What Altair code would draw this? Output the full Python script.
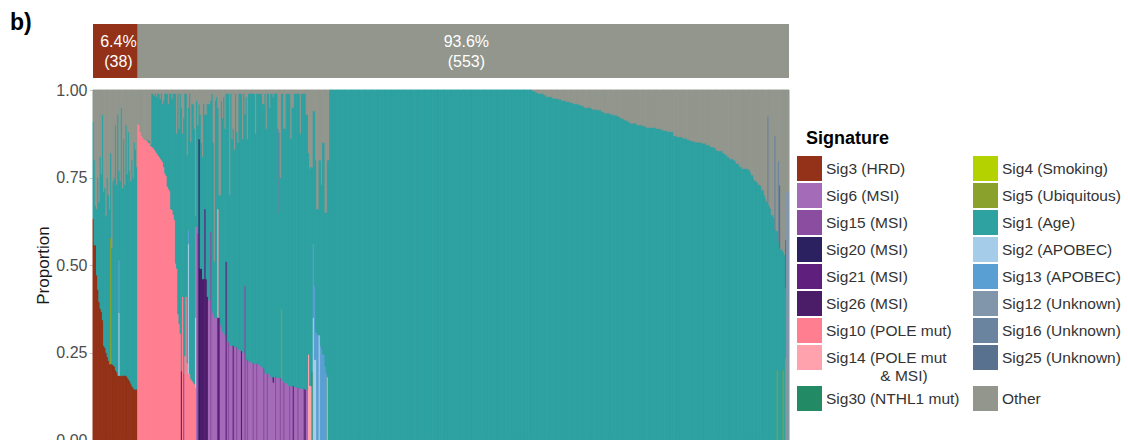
import altair as alt
import pandas as pd

# ------------------------------------------------------------------ data
N_SAMPLES = 591

SIG_LABELS = {
    "Sig3": "Sig3 (HRD)", "Sig6": "Sig6 (MSI)", "Sig15": "Sig15 (MSI)",
    "Sig20": "Sig20 (MSI)", "Sig21": "Sig21 (MSI)", "Sig26": "Sig26 (MSI)",
    "Sig10": "Sig10 (POLE mut)", "Sig14": "Sig14 (POLE mut & MSI)",
    "Sig30": "Sig30 (NTHL1 mut)", "Sig4": "Sig4 (Smoking)",
    "Sig5": "Sig5 (Ubiquitous)", "Sig1": "Sig1 (Age)", "Sig2": "Sig2 (APOBEC)",
    "Sig13": "Sig13 (APOBEC)", "Sig12": "Sig12 (Unknown)",
    "Sig16": "Sig16 (Unknown)", "Sig25": "Sig25 (Unknown)", "Other": "Other",
}
SIG_COLORS = {
    "Sig3": "#933218", "Sig6": "#A46BB8", "Sig15": "#8A4DA0", "Sig20": "#2B2060",
    "Sig21": "#5E1F7D", "Sig26": "#4B1D69", "Sig10": "#FF7F91", "Sig14": "#FFA2AE",
    "Sig30": "#238A66", "Sig4": "#B4D200", "Sig5": "#8AA22B", "Sig1": "#2EA1A1",
    "Sig2": "#A5CDEA", "Sig13": "#5A9FD3", "Sig12": "#8296AB", "Sig16": "#6A839E",
    "Sig25": "#58718F", "Other": "#92968D",
}
LEGEND_LEFT = ["Sig3", "Sig6", "Sig15", "Sig20", "Sig21", "Sig26", "Sig10", "Sig14", "Sig30"]
LEGEND_RIGHT = ["Sig4", "Sig5", "Sig1", "Sig2", "Sig13", "Sig12", "Sig16", "Sig25", "Other"]
STACK_ORDER = ["Sig3", "Sig6", "Sig15", "Sig20", "Sig21", "Sig26", "Sig10", "Sig14",
               "Sig30", "Sig4", "Sig5", "Sig2", "Sig13", "Sig1", "Sig12", "Sig16",
               "Sig25", "Other"]

# HRD samples (0-37): Sig3 proportion and top of Sig1 (Age) band
hrd_sig3 = [0.633, 0.557, 0.557, 0.471, 0.43, 0.395, 0.376, 0.367, 0.343, 0.27,
            0.264, 0.25, 0.238, 0.227, 0.217, 0.217, 0.217, 0.214, 0.211, 0.20,
            0.194, 0.184, 0.184, 0.184, 0.184, 0.184, 0.184, 0.184, 0.184, 0.179,
            0.174, 0.169, 0.162, 0.154, 0.149, 0.145, 0.145, 0.145]
hrd_age_top = [0.91, 0.80, 0.67, 0.66, 0.75, 0.68, 0.81, 0.76, 0.93, 0.71,
               0.72, 0.64, 0.75, 0.70, 0.66, 0.82, 0.55, 0.74, 0.75, 0.90,
               0.73, 0.93, 0.77, 0.74, 0.95, 0.72, 0.86, 0.73, 0.90, 0.76,
               0.88, 0.77, 0.74, 0.80, 0.75, 0.85, 0.83, 0.78]

# POLE / MSI / APOBEC samples (38-200): main signature, its proportion, top of Sig1 band
mix_main = [10, 10, 10, 10, 10, 10, 10, 10, 10, 10,
            10, 10, 10, 10, 10, 10, 10, 10, 10, 10,
            10, 10, 10, 10, 10, 10, 10, 10, 10, 10,
            10, 10, 10, 10, 10, 10, 10, 21, 10, 15,
            10, 10, 10, 10, 10, 10, 10, 10, 10, 10,
            6, 15, 20, 26, 26, 26, 26, 21, 26, 26,
            6, 6, 15, 6, 6, 6, 6, 6, 21, 21,
            6, 6, 6, 6, 6, 21, 6, 15, 6, 6,
            6, 21, 6, 6, 15, 6, 6, 6, 26, 6,
            6, 15, 6, 15, 6, 6, 6, 6, 15, 6,
            6, 15, 6, 6, 6, 6, 6, 15, 6, 6,
            15, 6, 6, 6, 6, 6, 6, 15, 6, 6,
            6, 15, 6, 6, 15, 6, 6, 6, 6, 15,
            6, 6, 21, 6, 6, 6, 15, 6, 6, 6,
            6, 15, 26, 6, 6, 14, 14, 14, 30, 2,
            2, 2, 13, 13, 2, 13, 13, 13, 13, 13,
            13, 4, 1]
mix_val = [0.903, 0.90, 0.88, 0.87, 0.865, 0.86, 0.857, 0.857, 0.855, 0.85,
           0.848, 0.84, 0.838, 0.835, 0.83, 0.825, 0.82, 0.815, 0.81, 0.805,
           0.80, 0.795, 0.78, 0.762, 0.755, 0.725, 0.718, 0.712, 0.66, 0.658,
           0.645, 0.63, 0.505, 0.49, 0.36, 0.333, 0.305, 0.197, 0.41, 0.19,
           0.24, 0.41, 0.22, 0.19, 0.19, 0.175, 0.17, 0.165, 0.16, 0.15,
           0.61, 0.59, 0.86, 0.49, 0.49, 0.46, 0.46, 0.66, 0.46, 0.41,
           0.40, 0.40, 0.595, 0.37, 0.36, 0.35, 0.35, 0.35, 0.35, 0.35,
           0.33, 0.32, 0.31, 0.305, 0.30, 0.51, 0.28, 0.28, 0.27, 0.27,
           0.27, 0.27, 0.266, 0.266, 0.266, 0.26, 0.257, 0.257, 0.255, 0.25,
           0.25, 0.44, 0.23, 0.23, 0.225, 0.224, 0.224, 0.22, 0.22, 0.218,
           0.219, 0.219, 0.218, 0.215, 0.213, 0.21, 0.207, 0.205, 0.19, 0.19,
           0.19, 0.19, 0.185, 0.18, 0.18, 0.165, 0.18, 0.18, 0.178, 0.178,
           0.178, 0.178, 0.176, 0.17, 0.164, 0.164, 0.164, 0.16, 0.155, 0.155,
           0.155, 0.155, 0.155, 0.152, 0.152, 0.15, 0.15, 0.148, 0.148, 0.147,
           0.147, 0.147, 0.145, 0.145, 0.145, 0.245, 0.155, 0.155, 0.195, 0.35,
           0.23, 0.23, 0.305, 0.30, 0.30, 0.27, 0.26, 0.245, 0.245, 0.21,
           0.19, 0.18, 0.0]
mix_age_top = [0.903, 0.90, 0.88, 0.87, 0.865, 0.86, 0.857, 0.857, 0.857, 0.857,
               0.855, 0.845, 0.99, 0.99, 0.985, 0.99, 0.98, 0.99, 0.99, 0.975,
               0.99, 0.96, 0.97, 0.99, 0.99, 0.99, 0.96, 0.99, 0.99, 0.975,
               0.99, 0.99, 0.99, 0.876, 0.99, 0.89, 0.99, 0.95, 0.876, 0.92,
               0.99, 0.99, 0.814, 0.95, 0.99, 0.852, 0.96, 0.96, 0.89, 0.64,
               0.97, 0.90, 0.96, 0.93, 0.85, 0.81, 0.96, 0.93, 0.93, 0.96,
               0.96, 0.96, 0.97, 0.99, 0.85, 0.51, 0.97, 0.98, 0.95, 0.70,
               0.70, 0.97, 0.92, 0.98, 0.89, 0.99, 0.99, 0.99, 0.70, 0.99,
               0.86, 0.89, 0.83, 0.99, 0.88, 0.85, 0.99, 0.99, 0.99, 0.86,
               0.99, 0.93, 0.98, 0.86, 0.99, 0.99, 0.99, 0.99, 0.99, 0.99,
               0.876, 0.99, 0.99, 0.99, 0.99, 0.99, 0.96, 0.96, 0.99, 0.89,
               0.99, 0.99, 0.95, 0.99, 0.99, 0.98, 0.99, 0.99, 0.99, 0.65,
               0.88, 0.75, 0.99, 0.99, 0.89, 0.89, 0.99, 0.99, 0.99, 0.99,
               0.86, 0.95, 0.95, 0.99, 0.99, 0.99, 0.99, 0.99, 0.876, 0.99,
               0.99, 0.99, 0.99, 0.93, 0.93, 0.82, 0.776, 0.78, 0.78, 0.94,
               0.94, 0.80, 0.66, 0.66, 0.80, 0.80, 0.73, 0.85, 0.85, 0.65,
               0.65, 0.80, 0.80]

# Age-dominated samples (201-372) are fully Sig1
age_full = [1.0] * 172

# Remaining samples (373-590): top of Sig1 band
age_tail_top = [0.998, 0.997, 0.997, 0.993, 0.993, 0.99, 0.99, 0.99, 0.99, 0.99,
                0.986, 0.986, 0.981, 0.981, 0.981, 0.981, 0.981, 0.978, 0.976, 0.976,
                0.976, 0.976, 0.974, 0.974, 0.974, 0.97, 0.97, 0.97, 0.97, 0.967,
                0.967, 0.967, 0.964, 0.964, 0.964, 0.96, 0.96, 0.96, 0.96, 0.96,
                0.957, 0.957, 0.955, 0.955, 0.95, 0.95, 0.95, 0.95, 0.95, 0.95,
                0.948, 0.945, 0.945, 0.945, 0.945, 0.943, 0.943, 0.943, 0.943, 0.938,
                0.938, 0.934, 0.934, 0.934, 0.934, 0.934, 0.931, 0.931, 0.931, 0.928,
                0.928, 0.928, 0.928, 0.924, 0.924, 0.919, 0.919, 0.919, 0.914, 0.914,
                0.914, 0.91, 0.91, 0.905, 0.905, 0.905, 0.905, 0.905, 0.905, 0.90,
                0.90, 0.90, 0.90, 0.90, 0.897, 0.897, 0.897, 0.893, 0.893, 0.893,
                0.893, 0.893, 0.893, 0.893, 0.893, 0.89, 0.89, 0.89, 0.89, 0.888,
                0.888, 0.884, 0.884, 0.884, 0.884, 0.881, 0.881, 0.881, 0.881, 0.881,
                0.869, 0.869, 0.869, 0.866, 0.866, 0.866, 0.866, 0.866, 0.862, 0.862,
                0.862, 0.862, 0.857, 0.857, 0.857, 0.854, 0.854, 0.854, 0.851, 0.851,
                0.851, 0.851, 0.851, 0.851, 0.848, 0.848, 0.848, 0.848, 0.843, 0.843,
                0.843, 0.838, 0.838, 0.838, 0.835, 0.835, 0.828, 0.828, 0.826, 0.826,
                0.826, 0.826, 0.819, 0.819, 0.814, 0.814, 0.808, 0.808, 0.803, 0.803,
                0.803, 0.799, 0.799, 0.79, 0.79, 0.79, 0.781, 0.781, 0.776, 0.776,
                0.776, 0.776, 0.776, 0.773, 0.773, 0.766, 0.757, 0.757, 0.746, 0.74,
                0.74, 0.736, 0.73, 0.73, 0.726, 0.714, 0.714, 0.70, 0.69, 0.681,
                0.675, 0.67, 0.662, 0.643, 0.643, 0.636, 0.60, 0.598, 0.598, 0.567,
                0.548, 0.545, 0.545, 0.538, 0.53, 0.435, 0.0, 0.0]

# minor signatures: (sample, signature, proportion)
extras = [(15, "Sig5", 0.36), (22, "Sig2", 0.18), (22, "Sig13", 0.15),
          (81, "Sig2", 0.37), (81, "Sig13", 0.04), (87, "Sig2", 0.20), (87, "Sig13", 0.26),
          (106, "Sig14", 0.31), (153, "Sig20", 0.015), (157, "Sig16", 0.24),
          (160, "Sig5", 0.20), (187, "Sig13", 0.21), (188, "Sig13", 0.21),
          (189, "Sig13", 0.08), (573, "Sig16", 0.25), (579, "Sig16", 0.27),
          (581, "Sig5", 0.20), (582, "Sig16", 0.23), (583, "Sig25", 0.18),
          (586, "Sig5", 0.20), (588, "Sig5", 0.235), (588, "Sig25", 0.137),
          (589, "Sig12", 0.71), (590, "Sig12", 0.71)]

# ------------------------------------------------------------------ assemble
assert len(hrd_sig3) == 38 and len(hrd_age_top) == 38
assert len(mix_main) == len(mix_val) == len(mix_age_top) == 163
assert 38 + 163 + len(age_full) + len(age_tail_top) == N_SAMPLES

comps = [dict() for _ in range(N_SAMPLES)]
age_top = [0.0] * N_SAMPLES
for k in range(38):
    comps[k]["Sig3"] = hrd_sig3[k]
    age_top[k] = hrd_age_top[k]
for j in range(163):
    i = 38 + j
    if mix_main[j] != 1 and mix_val[j] > 0:
        comps[i]["Sig%d" % mix_main[j]] = mix_val[j]
    age_top[i] = mix_age_top[j]
for j, v in enumerate(age_full):
    age_top[201 + j] = v
for j, v in enumerate(age_tail_top):
    age_top[201 + len(age_full) + j] = v
for i, s, v in extras:
    comps[i][s] = comps[i].get(s, 0) + v

below_age = STACK_ORDER[:STACK_ORDER.index("Sig1")]
rows = []
for i in range(N_SAMPLES):
    c = comps[i]
    c["Sig1"] = max(0.0, age_top[i] - sum(c.get(s, 0) for s in below_age))
    other = 1.0 - sum(c.values())
    c["Other"] = other if other > 1e-6 else 0.0
    y = 0.0
    for s in STACK_ORDER:
        v = c.get(s, 0)
        if v > 0:
            rows.append({"x0": i, "x1": i + 1, "y0": y, "y1": y + v,
                         "Signature": SIG_LABELS[s]})
            y += v
df = pd.DataFrame(rows)

hrd_n = len(hrd_sig3)
strip = pd.DataFrame({
    "group": ["HRD", "non-HRD"],
    "start": [0, hrd_n],
    "end": [hrd_n, N_SAMPLES],
    "n": [hrd_n, N_SAMPLES - hrd_n],
})
strip["mid"] = (strip["start"] + strip["end"]) / 2
strip["label"] = [f"{n / N_SAMPLES * 100:.1f}%\n({n})" for n in strip["n"]]

# ------------------------------------------------------------------ chart
PLOT_W, PLOT_H, MAIN_H = 696, 416, 350
Y_MAX = PLOT_H / MAIN_H
FONT = "Liberation Sans"

legend_domain = LEGEND_LEFT + LEGEND_RIGHT
color_scale = alt.Scale(domain=[SIG_LABELS[s] for s in legend_domain],
                        range=[SIG_COLORS[s] for s in legend_domain])

indent = "\u200b" + "\u2002" * 7
label_expr = ("datum.label == 'Sig14 (POLE mut & MSI)' ? "
              "['Sig14 (POLE mut', '" + indent + "& MSI)'] : datum.label")

x_scale = alt.Scale(domain=[0, N_SAMPLES], nice=False, zero=False)

bars = alt.Chart(df).mark_rect(strokeWidth=1.0).encode(
    x=alt.X("x0:Q", scale=x_scale, axis=None),
    x2="x1:Q",
    y=alt.Y("y0:Q", scale=alt.Scale(domain=[0, Y_MAX], nice=False, zero=True),
            axis=alt.Axis(values=[0, 0.25, 0.5, 0.75, 1.0], format=".2f",
                          title="Proportion", grid=False, domain=False,
                          tickSize=4, tickColor="#CCCCCC", labelFontSize=16,
                          labelColor="#4D4D4D", labelPadding=2, labelFont=FONT,
                          titleFont=FONT, titleFontSize=17, titleFontWeight="normal",
                          titleColor="#1A1A1A", titleX=-41, titleY=241,
                          titleAngle=270, titleBaseline="bottom", titleAlign="center")),
    y2="y1:Q",
    color=alt.Color("Signature:N", scale=color_scale, legend=alt.Legend(
        title="\u200b\u2002Signature", orient="none", legendX=704, legendY=106,
        columns=2, symbolType="square", symbolSize=625, symbolStrokeWidth=0,
        symbolOpacity=1, labelFontSize=15.5, labelColor="#333333",
        labelFont=FONT, titleFont=FONT, titleFontSize=18,
        titleFontWeight="bold", titleColor="#000000", titlePadding=8,
        rowPadding=2, columnPadding=13, labelOffset=4, labelLimit=400,
        labelExpr=label_expr, padding=0)),
    stroke=alt.Stroke("Signature:N", scale=color_scale, legend=None),
)

strip_hrd = alt.Chart(strip).transform_filter(alt.datum.group == "HRD").mark_rect(
    color=SIG_COLORS["Sig3"]).encode(
    x=alt.X("start:Q", scale=x_scale, axis=None), x2="end:Q",
    y=alt.value(0), y2=alt.value(54))
strip_rest = alt.Chart(strip).transform_filter(alt.datum.group != "HRD").mark_rect(
    color=SIG_COLORS["Other"]).encode(
    x=alt.X("start:Q", scale=x_scale, axis=None), x2="end:Q",
    y=alt.value(0), y2=alt.value(54))
strip_text = alt.Chart(strip).mark_text(
    color="white", fontSize=16, font=FONT, lineBreak="\n", lineHeight=19.5,
    baseline="alphabetic", align="center", dx=3).encode(
    x=alt.X("mid:Q", scale=x_scale, axis=None), y=alt.value(23), text="label:N")

tag = alt.Chart(pd.DataFrame({"t": ["b)"]})).mark_text(
    fontSize=23, fontWeight="bold", font=FONT, align="left",
    baseline="alphabetic", color="#000000").encode(
    x=alt.value(-83), y=alt.value(6), text="t:N")

chart = alt.layer(bars, strip_hrd, strip_rest, strip_text, tag).properties(
    width=PLOT_W, height=PLOT_H,
    autosize=alt.AutoSizeParams(type="none"),
    padding={"left": 93, "top": 24, "right": 339, "bottom": 0},
    background="white",
).configure(font=FONT, style={"guide-label": {"lineHeight": 18}}).configure_view(stroke=None)

chart.save("out.html", embed_options={"renderer": "svg", "actions": False})
